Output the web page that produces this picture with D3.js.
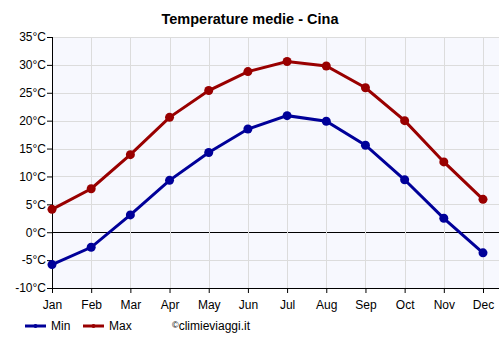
<!doctype html>
<html>
  <head>
    <script src="https://cdn.jsdelivr.net/npm/d3@7/dist/d3.min.js"></script>
    <style>
      body {
          margin: 0;
          font-family: Arial, "Liberation Sans", sans-serif;
          background: #fff;
      }
      .axis text {
          font-size: 12px;
          fill: #000;
      }
      .axis .domain {
          display: none;
      }
    </style>
  </head>
  <body>
    <script>
      var months = ["Jan","Feb","Mar","Apr","May","Jun","Jul","Aug","Sep","Oct","Nov","Dec"];
      var minTemp = [-5.8, -2.7, 3.1, 9.3, 14.3, 18.5, 20.9, 19.9, 15.6, 9.4, 2.5, -3.7];
      var maxTemp = [4.1, 7.8, 13.9, 20.6, 25.4, 28.8, 30.6, 29.8, 25.9, 20.0, 12.6, 5.9];
      var yTicks = [-10, -5, 0, 5, 10, 15, 20, 25, 30, 35];

      var W = 500, H = 350;
      var plotL = 52, plotR = 499, plotT = 37, plotB = 288;

      var svg = d3.select("body").append("svg")
          .attr("width", W)
          .attr("height", H);

      var x = d3.scalePoint()
          .domain(months)
          .range([plotL, 483]);

      var y = d3.scaleLinear()
          .domain([-10, 35])
          .range([plotB, plotT]);

      // plot background
      svg.append("rect")
          .attr("x", plotL)
          .attr("y", plotT)
          .attr("width", plotR - plotL)
          .attr("height", plotB - plotT)
          .attr("fill", "#f7f8fe");

      // grid
      svg.append("g")
          .selectAll("line")
          .data(yTicks)
          .enter().append("line")
          .attr("x1", plotL).attr("x2", plotR)
          .attr("y1", d => Math.round(y(d)) + 0.5).attr("y2", d => Math.round(y(d)) + 0.5)
          .attr("stroke", d => d === 0 ? "#000" : "#dcdcdc")
          .attr("stroke-width", 1);

      svg.append("g")
          .selectAll("line")
          .data(months.slice(1))
          .enter().append("line")
          .attr("x1", d => Math.round(x(d)) + 0.5).attr("x2", d => Math.round(x(d)) + 0.5)
          .attr("y1", plotT).attr("y2", plotB)
          .attr("stroke", "#dcdcdc");

      // axes
      svg.append("g")
          .attr("class", "axis")
          .attr("transform", `translate(${plotL},0)`)
          .call(d3.axisLeft(y).tickValues(yTicks).tickSize(5).tickFormat(d => d + "°C"))
          .call(g => g.selectAll(".tick line").attr("stroke", "#000"))
          .call(g => g.selectAll(".tick text").attr("x", -6));

      svg.append("g")
          .attr("class", "axis")
          .attr("transform", `translate(0,${plotB})`)
          .call(d3.axisBottom(x).tickSize(5))
          .call(g => g.selectAll(".tick line").attr("stroke", "#000"))
          .call(g => g.selectAll(".tick text").attr("dy", "1.05em"));

      svg.append("line")
          .attr("x1", plotL + 0.5).attr("x2", plotL + 0.5)
          .attr("y1", plotT).attr("y2", plotB)
          .attr("stroke", "#000");
      svg.append("line")
          .attr("x1", plotL).attr("x2", plotR)
          .attr("y1", plotB + 0.5).attr("y2", plotB + 0.5)
          .attr("stroke", "#000");

      // series
      var series = [
          {name: "Min", values: minTemp, color: "#000099"},
          {name: "Max", values: maxTemp, color: "#990000"}
      ];

      var line = d3.line()
          .x((d, i) => x(months[i]))
          .y(d => y(d));

      series.forEach(function(s) {
          svg.append("path")
              .attr("d", line(s.values))
              .attr("fill", "none")
              .attr("stroke", s.color)
              .attr("stroke-width", 3);
          svg.append("g")
              .selectAll("circle")
              .data(s.values)
              .enter().append("circle")
              .attr("cx", (d, i) => x(months[i]))
              .attr("cy", d => y(d))
              .attr("r", 4.5)
              .attr("fill", s.color);
      });

      // title
      svg.append("text")
          .attr("x", 250)
          .attr("y", 24)
          .attr("text-anchor", "middle")
          .attr("font-weight", "bold")
          .attr("font-size", 14.5)
          .text("Temperature medie - Cina");

      // legend
      var legendX = [25, 83];
      series.forEach(function(s, i) {
          var lx = legendX[i];
          svg.append("line")
              .attr("x1", lx).attr("x2", lx + 21)
              .attr("y1", 326).attr("y2", 326)
              .attr("stroke", s.color)
              .attr("stroke-width", 3);
          svg.append("circle")
              .attr("cx", lx + 10.5).attr("cy", 326).attr("r", 2)
              .attr("fill", s.color);
          svg.append("text")
              .attr("x", lx + 26)
              .attr("y", 330)
              .attr("font-size", 12)
              .text(s.name);
      });

      var credit = svg.append("text")
          .attr("x", 172)
          .attr("y", 330)
          .attr("font-size", 12);
      credit.append("tspan")
          .attr("font-size", 9)
          .attr("dy", -2)
          .text("©");
      credit.append("tspan")
          .attr("dy", 2)
          .text("climieviaggi.it");
    </script>
  </body>
</html>
